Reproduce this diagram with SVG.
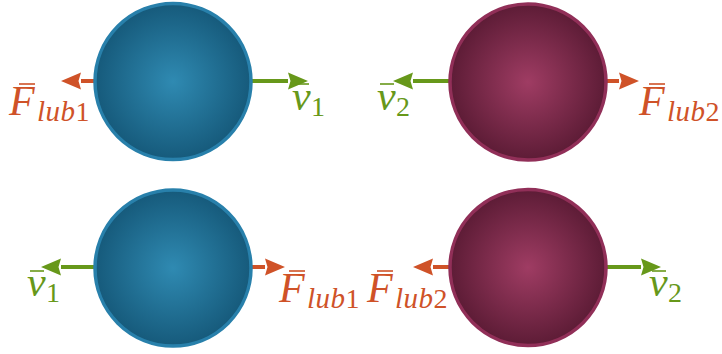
<svg xmlns="http://www.w3.org/2000/svg" width="722" height="354" viewBox="0 0 722 354">
  <style>
    .blue { fill: url(#gBlue); stroke: #2880ab; stroke-width: 3.5; }
    .red { fill: url(#gRed); stroke: #912f58; stroke-width: 3.5; }
    .fl { stroke: #cf5228; stroke-width: 4; fill: none; }
    .vl { stroke: #67981a; stroke-width: 4; fill: none; }
    .ft { fill: #cf5228; font-family: "Liberation Serif", "Times New Roman", serif; }
    .vt { fill: #67981a; font-family: "Liberation Serif", "Times New Roman", serif; }
    .m { font-size: 42px; font-style: italic; }
    .si { font-size: 29px; font-style: italic; letter-spacing: 0.5px; }
    .sd { font-size: 28px; font-style: normal; }
    .fbar { stroke: #cf5228; stroke-width: 1.6; }
    .vbar { stroke: #67981a; stroke-width: 1.6; }
  </style>
  <defs>
    <radialGradient id="gBlue" cx="0.5" cy="0.5" r="0.5">
      <stop offset="0" stop-color="#2f8ab2"/>
      <stop offset="1" stop-color="#165a7b"/>
    </radialGradient>
    <radialGradient id="gRed" cx="0.5" cy="0.5" r="0.5">
      <stop offset="0" stop-color="#9f3c63"/>
      <stop offset="1" stop-color="#5d1c36"/>
    </radialGradient>
    <marker id="hF" markerUnits="userSpaceOnUse" markerWidth="20" markerHeight="17" refX="0" refY="8.5" orient="auto" overflow="visible">
      <path d="M0,0 L20,8.5 L0,17 L2.5,8.5 z" fill="#cf5228"/>
    </marker>
    <marker id="hV" markerUnits="userSpaceOnUse" markerWidth="20" markerHeight="17" refX="0" refY="8.5" orient="auto" overflow="visible">
      <path d="M0,0 L20,8.5 L0,17 L2.5,8.5 z" fill="#67981a"/>
    </marker>
  </defs>

  <g id="connectors">
    <line class="fl" x1="94" y1="81" x2="81" y2="81" marker-end="url(#hF)"/>
    <line class="vl" x1="252" y1="81" x2="288" y2="81" marker-end="url(#hV)"/>
    <line class="vl" x1="449" y1="81" x2="413" y2="81" marker-end="url(#hV)"/>
    <line class="fl" x1="607" y1="81" x2="619" y2="81" marker-end="url(#hF)"/>
    <line class="vl" x1="94" y1="267" x2="61" y2="267" marker-end="url(#hV)"/>
    <line class="fl" x1="252" y1="267" x2="265" y2="267" marker-end="url(#hF)"/>
    <line class="fl" x1="449" y1="267" x2="433" y2="267" marker-end="url(#hF)"/>
    <line class="vl" x1="607" y1="267" x2="641" y2="267" marker-end="url(#hV)"/>
  </g>

  <g id="ball1-top">
    <circle class="blue" cx="173" cy="81.5" r="78"/>
  </g>
  <g id="ball2-top">
    <circle class="red" cx="528" cy="82" r="78"/>
  </g>
  <g id="ball1-bottom">
    <circle class="blue" cx="173" cy="268" r="78"/>
  </g>
  <g id="ball2-bottom">
    <circle class="red" cx="528" cy="267.5" r="78"/>
  </g>

  <g id="labels">
    <g id="lbl-Flub1-top">
      <line class="fbar" x1="19" y1="84" x2="35" y2="84"/>
      <text class="ft" y="115"><tspan class="m" x="9">F</tspan><tspan class="si" x="37" y="121">lub</tspan><tspan class="sd">1</tspan></text>
    </g>
    <g id="lbl-v1-top">
      <line class="vbar" x1="295" y1="84" x2="309" y2="84"/>
      <text class="vt" y="110"><tspan class="m" x="292">v</tspan><tspan class="sd" x="311" y="116">1</tspan></text>
    </g>
    <g id="lbl-v2-top">
      <line class="vbar" x1="380" y1="84" x2="394" y2="84"/>
      <text class="vt" y="110"><tspan class="m" x="377">v</tspan><tspan class="sd" x="396" y="116">2</tspan></text>
    </g>
    <g id="lbl-Flub2-top">
      <line class="fbar" x1="649" y1="84" x2="665" y2="84"/>
      <text class="ft" y="115"><tspan class="m" x="639">F</tspan><tspan class="si" x="667" y="121">lub</tspan><tspan class="sd">2</tspan></text>
    </g>
    <g id="lbl-v1-bottom">
      <line class="vbar" x1="30" y1="271" x2="44" y2="271"/>
      <text class="vt" y="296"><tspan class="m" x="27">v</tspan><tspan class="sd" x="46" y="302">1</tspan></text>
    </g>
    <g id="lbl-Flub1-bottom">
      <line class="fbar" x1="289" y1="271" x2="305" y2="271"/>
      <text class="ft" y="302"><tspan class="m" x="279">F</tspan><tspan class="si" x="307" y="308">lub</tspan><tspan class="sd">1</tspan></text>
    </g>
    <g id="lbl-Flub2-bottom">
      <line class="fbar" x1="377" y1="271" x2="393" y2="271"/>
      <text class="ft" y="302"><tspan class="m" x="367">F</tspan><tspan class="si" x="395" y="308">lub</tspan><tspan class="sd">2</tspan></text>
    </g>
    <g id="lbl-v2-bottom">
      <line class="vbar" x1="652" y1="271" x2="666" y2="271"/>
      <text class="vt" y="296"><tspan class="m" x="649">v</tspan><tspan class="sd" x="668" y="302">2</tspan></text>
    </g>
  </g>
</svg>
